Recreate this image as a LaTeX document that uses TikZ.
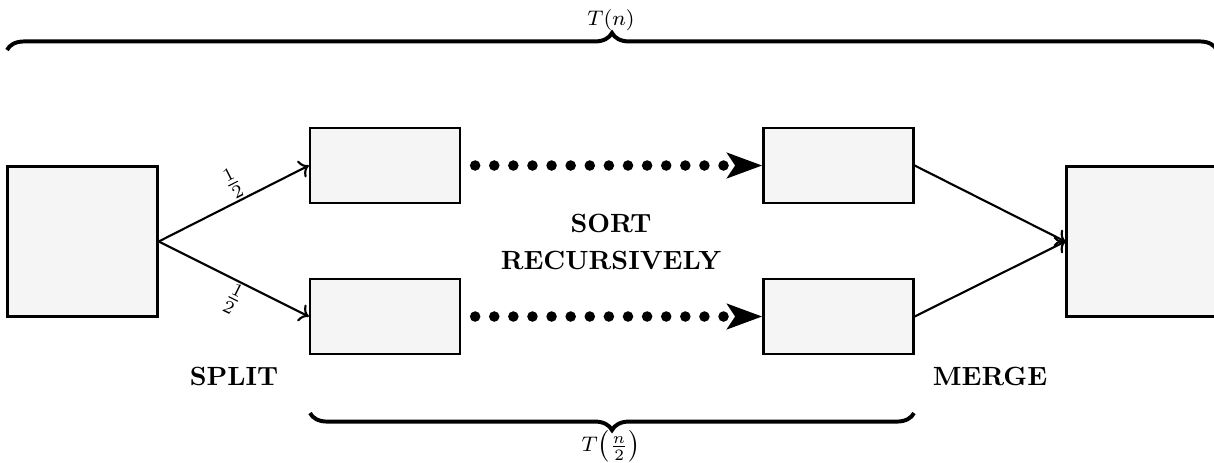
\documentclass[tikz,border=0pt]{standalone}
\usetikzlibrary{arrows.meta,decorations.pathreplacing}
\begin{document}
\begin{tikzpicture}[x=0.013333cm,y=-0.013333cm,
  box/.style={draw, line width=0.9pt, fill=black!4, inner sep=0pt},
  sq/.style={box, minimum width=2cm, minimum height=2cm},
  rect/.style={box, minimum width=2cm, minimum height=1cm},
  conn/.style={->, line width=0.8pt},
  dotarrow/.style={line width=4pt, line cap=round, dash pattern=on 0pt off 7.25pt,
    shorten <=5.3pt, -{Stealth[length=13.3pt,width=9.5pt,inset=3pt]}},
  brc/.style={decorate, decoration={brace, amplitude=6.5pt}, line width=1.5pt},
  lbl/.style={font=\bfseries, align=center},
  frac/.style={pos=0.55, sloped, inner sep=0.5pt}
]
\useasboundingbox (0,0) rectangle (1214,462);
% boxes
\node[sq]   (in)  at (82.5,241.5)  {};
\node[rect] (ul)  at (385,165.5)   {};
\node[rect] (ll)  at (385,316.5)   {};
\node[rect] (ur)  at (838.5,165.5) {};
\node[rect] (lr)  at (838.5,316.5) {};
\node[sq]   (out) at (1141.5,241.5) {};
% split
\draw[conn] (in.east) -- (ul.west) node[frac, above] {$\frac{1}{2}$};
\draw[conn] (in.east) -- (ll.west) node[frac, below] {$\frac{1}{2}$};
% recursive sort
\draw[dotarrow] (ul.east) -- (ur.west);
\draw[dotarrow] (ll.east) -- (lr.west);
% merge
\draw[conn] (ur.east) -- (out.west);
\draw[conn] (lr.east) -- (out.west);
% texts
\node[lbl] (sort)  at (611,242) {SORT\\[2pt]RECURSIVELY};
\node[lbl] (split) at (234,376) {SPLIT};
\node[lbl] (merge) at (990,376) {MERGE};
% braces
\coordinate (tl) at (7,50);
\coordinate (tr) at (1217,50);
\draw[brc] (tl) -- (tr);
\node[font=\footnotesize] (tn) at (611,20) {$T(n)$};
\coordinate (bl) at (310,413);
\coordinate (br) at (914,413);
\draw[brc] (br) -- (bl);
\node[font=\footnotesize, inner sep=0pt] (tn2) at (611,446) {$T\bigl(\frac{n}{2}\bigr)$};
\end{tikzpicture}
\end{document}
